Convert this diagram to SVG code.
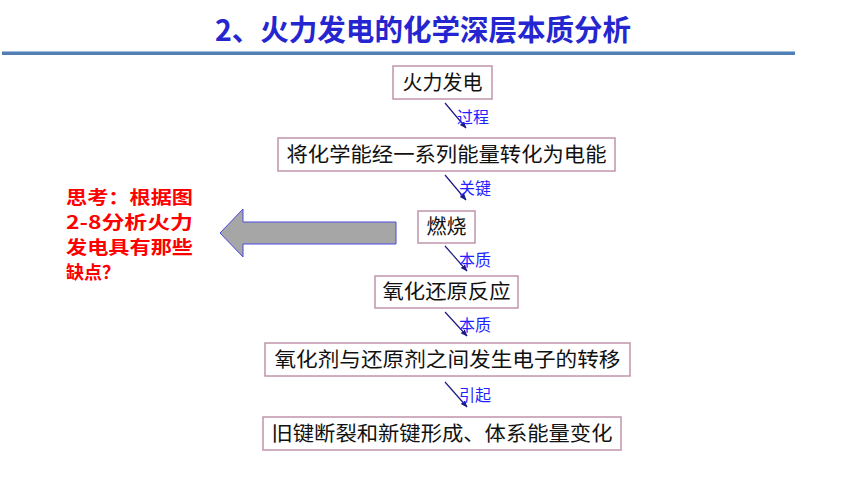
<svg xmlns="http://www.w3.org/2000/svg" width="860" height="484" viewBox="0 0 860 484">
<defs>
<style>
.box{fill:#ffffff;stroke:#c094ac;stroke-width:1.5}
.t{font-family:"Noto Sans CJK SC","Noto Sans",sans-serif;font-size:20px;fill:#111111}
.lbl{font-family:"Noto Sans CJK SC","Noto Sans",sans-serif;font-size:16px;fill:#1f1fff}
.con{stroke:#1a1a80;stroke-width:1.2;fill:none;marker-end:url(#ah)}
.red{font-family:"Noto Sans CJK SC","Noto Sans",sans-serif;font-size:18px;font-weight:bold;fill:#ff0000}
</style>
<marker id="ah" viewBox="0 0 10 10" refX="9" refY="5" markerWidth="7" markerHeight="7" orient="auto" markerUnits="userSpaceOnUse">
<path d="M0,1 L10,5 L0,9 Z" fill="#1a1a80"/>
</marker>
</defs>
<rect width="860" height="484" fill="#ffffff"/>
<text x="423" y="41" text-anchor="middle" font-family="'Noto Sans CJK SC','Noto Sans',sans-serif" font-size="29" font-weight="bold" fill="#2626d0" textLength="416" lengthAdjust="spacingAndGlyphs">2、火力发电的化学深层本质分析</text>
<rect x="2" y="51.5" width="793" height="3.5" fill="#4f7fb5"/>
<g id="arrow-big">
<polygon points="220,233 243,209 243,222 396,222 396,244 243,244 243,257" fill="#a6a6a6" stroke="#4a4ae0" stroke-width="1"/>
</g>
<g id="question">
<text class="red" x="66" y="204" textLength="127" lengthAdjust="spacingAndGlyphs">思考：根据图</text>
<text class="red" x="66" y="229" textLength="127" lengthAdjust="spacingAndGlyphs">2-8分析火力</text>
<text class="red" x="66" y="254" textLength="127" lengthAdjust="spacingAndGlyphs">发电具有那些</text>
<text class="red" x="66" y="279" textLength="54" lengthAdjust="spacingAndGlyphs">缺点？</text>
</g>
<g id="n1"><rect class="box" x="393" y="66" width="99" height="33"/><text class="t" x="442.5" y="90" text-anchor="middle">火力发电</text></g>
<g id="n2"><rect class="box" x="278" y="138" width="337" height="33"/><text class="t" x="446.5" y="162" text-anchor="middle" textLength="320" lengthAdjust="spacingAndGlyphs">将化学能经一系列能量转化为电能</text></g>
<g id="n3"><rect class="box" x="418" y="211" width="57" height="32"/><text class="t" x="446.5" y="234" text-anchor="middle">燃烧</text></g>
<g id="n4"><rect class="box" x="375" y="276" width="143" height="32"/><text class="t" x="446.5" y="299" text-anchor="middle" textLength="128" lengthAdjust="spacingAndGlyphs">氧化还原反应</text></g>
<g id="n5"><rect class="box" x="265" y="343" width="365" height="33"/><text class="t" x="447.5" y="367" text-anchor="middle" textLength="346" lengthAdjust="spacingAndGlyphs">氧化剂与还原剂之间发生电子的转移</text></g>
<g id="n6"><rect class="box" x="263" y="417" width="358" height="33"/><text class="t" x="442" y="441" text-anchor="middle" textLength="341" lengthAdjust="spacingAndGlyphs">旧键断裂和新键形成、体系能量变化</text></g>
<g id="connectors">
<line class="con" x1="445" y1="103" x2="466" y2="128"/>
<line class="con" x1="445" y1="175" x2="466" y2="200"/>
<line class="con" x1="445" y1="246" x2="467" y2="271"/>
<line class="con" x1="445" y1="312" x2="467" y2="336"/>
<line class="con" x1="445" y1="382" x2="467" y2="407"/>
<text class="lbl" x="457" y="123">过程</text>
<text class="lbl" x="459" y="194">关键</text>
<text class="lbl" x="459" y="266">本质</text>
<text class="lbl" x="459" y="331">本质</text>
<text class="lbl" x="459" y="401">引起</text>
</g>
</svg>
